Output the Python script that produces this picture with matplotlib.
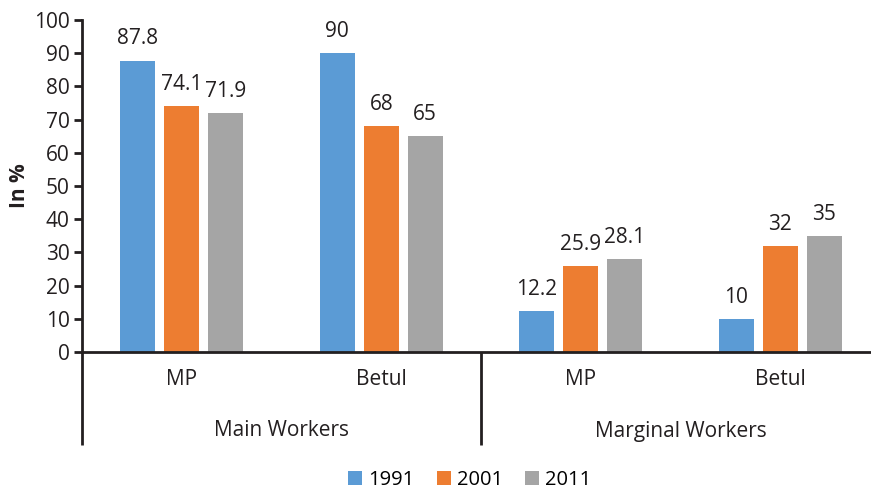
import matplotlib
matplotlib.use("Agg")
import matplotlib.pyplot as plt
import matplotlib.transforms as mtransforms
from matplotlib.patches import Patch
import numpy as np

plt.rcParams['font.family'] = ['Open Sans', 'DejaVu Sans']

categories = ["MP", "Betul", "MP", "Betul"]
groups = ["Main Workers", "Marginal Workers"]
years = ["1991", "2001", "2011"]
v1991 = [87.8, 90, 12.2, 10]
v2001 = [74.1, 68, 25.9, 32]
v2011 = [71.9, 65, 28.1, 35]
colors = ["#5B9BD5", "#ED7D31", "#A5A5A5"]

W, H = 871, 492
fig = plt.figure(figsize=(W / 100, H / 100), dpi=100)
ax = fig.add_axes([82 / W, (H - 352) / H, (W - 82) / W, 332 / H])

TXT = "#231f20"
x = np.arange(len(categories))
width = 0.175
step = 0.22
series = [v1991, v2001, v2011]
for i, (vals, c) in enumerate(zip(series, colors)):
    xs = x + (i - 1) * step
    ax.bar(xs, vals, width=width, color=c, zorder=2)
    for xi, v in zip(xs, vals):
        ax.annotate(f"{v:g}", (xi, v), xytext=(0, 8), textcoords="offset points",
                    ha="center", va="bottom", fontsize=15, color=TXT)

ax.set_xlim(-0.5, -0.5 + 789 / 199.5)
ax.set_ylim(0, 100)
ax.set_yticks(range(0, 101, 10))
ax.tick_params(axis="y", length=6, width=2, labelsize=15, pad=3, colors=TXT)
ax.set_xticks(x)
ax.set_xticklabels(categories, fontsize=15, color=TXT)
ax.tick_params(axis="x", length=0, pad=12)
for s in ["top", "right"]:
    ax.spines[s].set_visible(False)
for s in ["left", "bottom"]:
    ax.spines[s].set_linewidth(2)
    ax.spines[s].set_color(TXT)

ax.set_ylabel("In %", fontsize=15, fontweight="bold", labelpad=3, color=TXT)

trans = mtransforms.blended_transform_factory(ax.transData, ax.transAxes)
for xv in [-0.5, 1.5]:
    ax.plot([xv, xv], [0, -93 / 332], transform=trans, color=TXT,
            lw=2, clip_on=False, solid_capstyle="butt")
for gi, g in enumerate(groups):
    ax.text(gi * 2 + 0.5, -79 / 332, g, transform=trans, ha="center", va="center",
            fontsize=15, color=TXT)

handles = [Patch(facecolor=c, label=y) for c, y in zip(colors, years)]
fig.legend(handles=handles, loc="center", bbox_to_anchor=(470 / W, 1 - 480 / H),
           ncol=3, frameon=False, fontsize=14.5, handlelength=0.7, handleheight=0.7,
           handletextpad=0.3, columnspacing=1.1, borderpad=0)

fig.savefig("out.png", dpi=100)
